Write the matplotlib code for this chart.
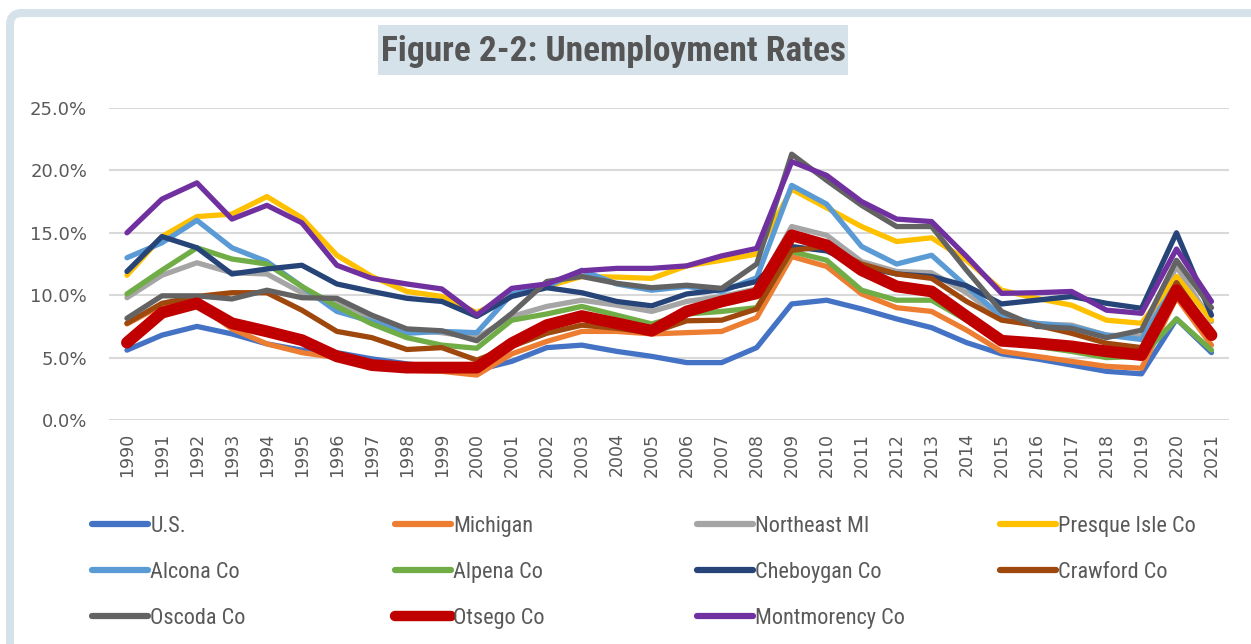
import matplotlib
matplotlib.use("Agg")
import matplotlib.pyplot as plt
from matplotlib import font_manager
from matplotlib.patches import FancyBboxPatch, Rectangle
from matplotlib.transforms import IdentityTransform
from matplotlib.ticker import FuncFormatter

years = list(range(1990, 2022))

us = [5.6, 6.8, 7.5, 6.9, 6.1, 5.6, 5.4, 4.9, 4.5, 4.2, 4.0, 4.7, 5.8, 6.0, 5.5, 5.1,
      4.6, 4.6, 5.8, 9.3, 9.6, 8.9, 8.1, 7.4, 6.2, 5.3, 4.9, 4.4, 3.9, 3.7, 8.1, 5.4]
michigan = [7.7, 9.2, 9.3, 7.3, 6.1, 5.4, 5.0, 4.3, 4.0, 3.9, 3.6, 5.3, 6.3, 7.1, 7.1, 6.9,
            7.0, 7.1, 8.2, 13.1, 12.3, 10.1, 9.0, 8.7, 7.2, 5.5, 5.1, 4.7, 4.3, 4.15, 9.8, 6.0]
northeast_mi = [9.8, 11.6, 12.6, 11.8, 11.7, 10.2, 9.5, 8.2, 7.2, 7.0, 6.6, 8.3, 9.1, 9.6, 9.2, 8.7,
                9.5, 9.9, 10.5, 15.5, 14.8, 12.7, 11.9, 11.8, 10.2, 8.1, 7.7, 7.6, 6.8, 6.7, 12.3, 7.9]
presque_isle = [11.6, 14.7, 16.3, 16.5, 17.9, 16.2, 13.2, 11.5, 10.3, 9.9, 8.6, 10.0, 10.7, 11.5, 11.45, 11.35,
                12.35, 12.8, 13.3, 18.5, 17.0, 15.5, 14.3, 14.6, 12.8, 10.4, 9.75, 9.2, 8.0, 7.75, 11.5, 8.0]
alcona = [13.0, 14.2, 16.0, 13.8, 12.7, 10.7, 8.7, 7.9, 6.95, 7.1, 7.0, 10.1, 10.7, 12.0, 10.9, 10.4,
          10.7, 10.3, 11.4, 18.8, 17.3, 13.9, 12.5, 13.2, 10.7, 8.3, 7.75, 7.5, 6.8, 6.45, 11.0, 7.0]
alpena = [10.1, 12.0, 13.8, 12.9, 12.5, 10.7, 9.1, 7.7, 6.6, 6.0, 5.75, 8.0, 8.5, 9.1, 8.4, 7.7,
          8.5, 8.7, 9.0, 13.5, 12.8, 10.4, 9.6, 9.6, 8.0, 6.2, 5.9, 5.5, 5.0, 5.1, 8.1, 5.6]
cheboygan = [11.9, 14.7, 13.8, 11.7, 12.1, 12.4, 10.9, 10.3, 9.75, 9.5, 8.3, 9.9, 10.6, 10.2, 9.5, 9.15,
             10.1, 10.45, 11.1, 13.9, 13.55, 12.3, 11.7, 11.5, 10.75, 9.3, 9.6, 9.9, 9.35, 8.95, 15.0, 8.4]
crawford = [7.75, 9.35, 9.9, 10.2, 10.2, 8.8, 7.1, 6.6, 5.65, 5.8, 4.8, 5.9, 6.95, 7.6, 7.35, 7.0,
            7.95, 8.0, 8.9, 13.6, 13.9, 12.5, 11.7, 11.35, 9.5, 8.0, 7.6, 6.95, 6.15, 5.8, 11.0, 7.0]
oscoda = [8.15, 9.95, 9.95, 9.7, 10.4, 9.8, 9.75, 8.4, 7.3, 7.15, 6.35, 8.55, 11.1, 11.5, 10.95, 10.6,
          10.8, 10.55, 12.5, 21.3, 19.2, 17.2, 15.5, 15.5, 12.0, 8.7, 7.5, 7.35, 6.6, 7.2, 12.8, 9.0]
otsego = [6.2, 8.6, 9.35, 7.75, 7.1, 6.4, 5.1, 4.4, 4.2, 4.2, 4.2, 6.15, 7.6, 8.33, 7.75, 7.15,
          8.7, 9.5, 10.15, 14.8, 14.0, 12.0, 10.7, 10.3, 8.3, 6.35, 6.15, 5.9, 5.5, 5.2, 10.4, 6.8]
montmorency = [15.0, 17.7, 19.0, 16.1, 17.2, 15.8, 12.4, 11.35, 10.9, 10.5, 8.4, 10.55, 10.9, 11.96, 12.15, 12.15,
               12.35, 13.15, 13.75, 20.7, 19.6, 17.5, 16.1, 15.9, 13.1, 10.15, 10.2, 10.3, 8.8, 8.55, 13.7, 9.5]

series = [
    ("U.S.", us, "#4472C4", 3.8),
    ("Michigan", michigan, "#ED7D31", 3.8),
    ("Northeast MI", northeast_mi, "#A5A5A5", 3.8),
    ("Presque Isle Co", presque_isle, "#FFC000", 3.8),
    ("Alcona Co", alcona, "#5B9BD5", 3.8),
    ("Alpena Co", alpena, "#70AD47", 3.8),
    ("Cheboygan Co", cheboygan, "#264478", 3.8),
    ("Crawford Co", crawford, "#9E480E", 3.8),
    ("Oscoda Co", oscoda, "#636363", 3.8),
    ("Otsego Co", otsego, "#C00000", 8.5),
    ("Montmorency Co", montmorency, "#7030A0", 3.8),
]

available = {f.name for f in font_manager.fontManager.ttflist}
narrow = next((f for f in ["Liberation Sans Narrow", "Roboto Condensed", "DejaVu Sans Condensed"]
               if f in available), "DejaVu Sans")
text_grey = "#595959"
frame_col = "#D6E2EA"

fig = plt.figure(figsize=(12.51, 6.44), dpi=100)
ax = fig.add_axes([0.0875, 0.3478, 0.8949, 0.4845])

x = list(range(len(years)))
for name, vals, col, lw in series:
    ax.plot(x, vals, color=col, lw=lw, label=name, solid_capstyle="round",
            solid_joinstyle="round")

ax.set_xlim(-0.5, len(years) - 0.5)
ax.set_ylim(0, 25)
ax.set_yticks([0, 5, 10, 15, 20, 25])
ax.yaxis.set_major_formatter(FuncFormatter(lambda v, p: f"{v:.1f}%"))
ax.set_xticks(x)
ax.set_xticklabels([str(y) for y in years], rotation=90)
ax.tick_params(axis="y", length=0, pad=16, labelsize=13, labelcolor=text_grey)
ax.tick_params(axis="x", length=0, pad=9, labelsize=12.5, labelcolor=text_grey)
ax.grid(axis="y", color="#D9D9D9", lw=1.5)
ax.set_axisbelow(True)
for s in ax.spines.values():
    s.set_visible(False)

# legend filled row by row like Excel: one legend per column, placed at the column's x
handles, labels = ax.get_legend_handles_labels()
col_x = [92, 395, 697, 1000]
for c, cx in enumerate(col_x):
    idx = list(range(c, len(handles), 4))
    leg = fig.legend([handles[i] for i in idx], [labels[i] for i in idx],
                     loc="upper left", bbox_to_anchor=(cx / 1251, 1 - 516 / 644),
                     frameon=False, borderpad=0, borderaxespad=0,
                     handlelength=2.5, handletextpad=0.12, labelspacing=1.13,
                     prop={"family": narrow, "size": 16})
    for t in leg.get_texts():
        t.set_color(text_grey)
    for h in leg.legend_handles:
        h.set_linewidth(7.5 if h.get_label() == "Otsego Co" else 4.5)
        h.set_solid_capstyle("round")

# frame round the chart
fig.patches.append(FancyBboxPatch((10, -60), 1400, 691, boxstyle="round,pad=0,rounding_size=12",
                                  transform=IdentityTransform(), fill=False,
                                  edgecolor=frame_col, lw=5.8, figure=fig))
fig.patches.append(Rectangle((378, 644 - 75), 470, 50, transform=IdentityTransform(),
                             facecolor=frame_col, edgecolor="none", figure=fig))
fig.text(613 / 1251, 1 - 51 / 644, "Figure 2-2: Unemployment Rates", ha="center", va="center",
         fontsize=25.5, fontweight="bold", color="#555555", family=narrow)

fig.savefig("out.png", dpi=100)
